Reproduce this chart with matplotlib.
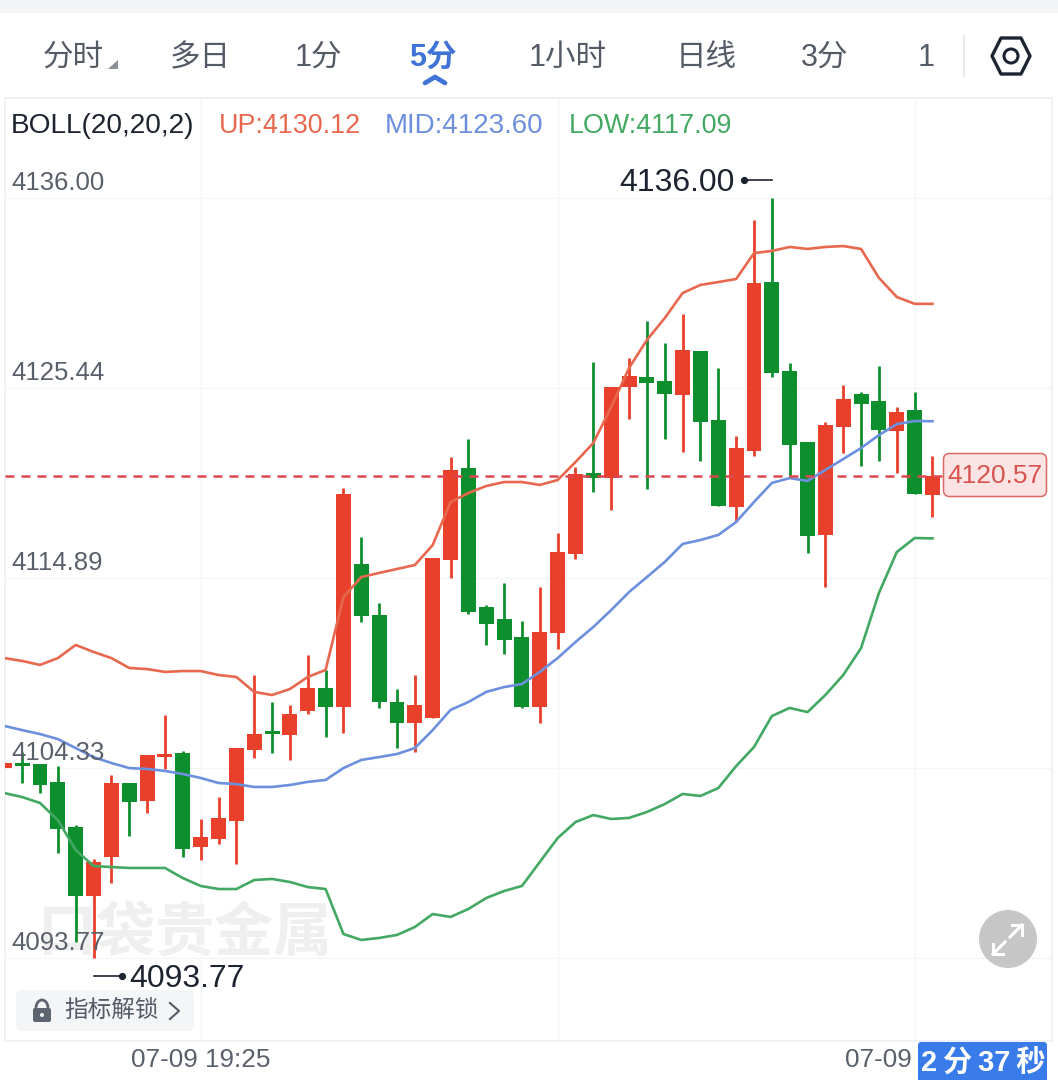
import numpy as np
import matplotlib
matplotlib.use("Agg")
import matplotlib.pyplot as plt
from matplotlib.patches import Rectangle, FancyBboxPatch, Polygon, Circle, Arc
from matplotlib.transforms import offset_copy

plt.rcParams['font.family'] = ['Liberation Sans', 'Noto Sans CJK SC', 'DejaVu Sans']

# 5-minute candles
opens = [4104.33, 4104.61, 4104.56, 4103.56, 4101.06, 4097.22, 4099.39, 4103.50, 4102.50, 4104.94,
         4105.17, 4099.94, 4100.39, 4101.39, 4105.33, 4106.39, 4106.17, 4107.50, 4108.78, 4107.72,
         4115.67, 4112.83, 4108.00, 4106.83, 4107.11, 4115.89, 4121.00, 4113.28, 4112.61, 4111.61,
         4107.72, 4111.83, 4116.22, 4120.72, 4120.44, 4125.50, 4126.06, 4125.83, 4125.06, 4127.50,
         4123.67, 4118.83, 4121.94, 4131.33, 4126.39, 4122.44, 4117.28, 4123.28, 4125.11, 4124.72,
         4123.06, 4124.22, 4119.50]
closes = [4104.61, 4104.44, 4103.39, 4100.94, 4097.22, 4099.11, 4103.50, 4102.44, 4105.06, 4105.11,
          4099.83, 4100.50, 4101.56, 4105.44, 4106.22, 4106.22, 4107.33, 4108.78, 4107.72, 4119.56,
          4112.78, 4108.00, 4106.83, 4107.83, 4116.00, 4120.89, 4113.00, 4112.33, 4111.44, 4107.72,
          4111.89, 4116.33, 4120.67, 4120.44, 4125.50, 4126.11, 4125.72, 4125.11, 4127.56, 4123.56,
          4118.89, 4122.11, 4131.28, 4126.28, 4122.28, 4117.22, 4123.39, 4124.83, 4124.56, 4123.11,
          4124.11, 4119.56, 4120.57]
highs = [4104.61, 4105.22, 4104.56, 4104.44, 4101.17, 4099.28, 4103.94, 4103.50, 4105.06, 4107.28,
         4105.28, 4101.50, 4102.72, 4105.44, 4109.50, 4108.00, 4107.83, 4110.61, 4109.78, 4119.89,
         4117.17, 4113.50, 4108.72, 4109.50, 4116.00, 4121.61, 4122.61, 4113.39, 4114.61, 4112.50,
         4114.39, 4117.39, 4121.06, 4126.89, 4125.50, 4127.11, 4129.17, 4127.94, 4129.56, 4127.50,
         4126.56, 4122.78, 4134.78, 4136.00, 4126.83, 4122.44, 4123.56, 4125.61, 4125.22, 4126.67,
         4124.39, 4125.22, 4121.67]
lows = [4104.33, 4103.50, 4102.94, 4099.61, 4094.67, 4093.77, 4097.94, 4100.56, 4101.83, 4104.28,
        4099.39, 4099.22, 4100.11, 4099.00, 4104.89, 4105.17, 4104.78, 4107.33, 4106.06, 4106.28,
        4112.44, 4107.67, 4105.44, 4105.22, 4107.11, 4114.89, 4112.89, 4111.17, 4110.67, 4107.67,
        4106.83, 4110.94, 4115.94, 4119.67, 4118.67, 4123.72, 4119.83, 4122.61, 4121.89, 4121.39,
        4118.89, 4118.00, 4121.67, 4126.06, 4120.50, 4116.28, 4114.39, 4121.83, 4121.11, 4121.39,
        4120.72, 4119.56, 4118.28]

# Bollinger bands
boll_up = [4110.44, 4110.28, 4110.06, 4110.44, 4111.17, 4110.78, 4110.44, 4109.89, 4109.83, 4109.67,
           4109.72, 4109.72, 4109.50, 4109.39, 4108.56, 4108.39, 4108.72, 4109.39, 4109.78, 4113.83,
           4114.94, 4115.17, 4115.39, 4115.61, 4116.72, 4119.11, 4119.61, 4120.00, 4120.22, 4120.22,
           4120.06, 4120.33, 4121.33, 4122.39, 4124.39, 4126.56, 4128.11, 4129.33, 4130.72, 4131.17,
           4131.33, 4131.50, 4132.94, 4133.06, 4133.28, 4133.17, 4133.28, 4133.33, 4133.17, 4131.56,
           4130.50, 4130.12, 4130.12]
boll_mid = [4106.67, 4106.44, 4106.22, 4105.94, 4105.44, 4104.94, 4104.61, 4104.33, 4104.28, 4104.17,
            4104.00, 4103.78, 4103.50, 4103.44, 4103.28, 4103.28, 4103.39, 4103.56, 4103.67, 4104.33,
            4104.78, 4104.94, 4105.11, 4105.44, 4106.44, 4107.56, 4108.00, 4108.56, 4108.83, 4109.00,
            4109.67, 4110.44, 4111.33, 4112.17, 4113.11, 4114.11, 4114.94, 4115.78, 4116.78, 4117.00,
            4117.28, 4118.00, 4119.11, 4120.17, 4120.44, 4120.28, 4120.89, 4121.50, 4122.11, 4122.83,
            4123.44, 4123.61, 4123.60]
boll_low = [4102.94, 4102.72, 4102.39, 4101.44, 4099.78, 4098.89, 4098.83, 4098.78, 4098.78, 4098.78,
            4098.22, 4097.78, 4097.61, 4097.61, 4098.11, 4098.17, 4098.00, 4097.72, 4097.61, 4095.11,
            4094.78, 4094.89, 4095.06, 4095.50, 4096.22, 4096.06, 4096.50, 4097.11, 4097.50, 4097.78,
            4099.11, 4100.44, 4101.33, 4101.72, 4101.50, 4101.56, 4101.89, 4102.33, 4102.89, 4102.78,
            4103.22, 4104.44, 4105.50, 4107.22, 4107.67, 4107.44, 4108.39, 4109.50, 4111.00, 4114.06,
            4116.33, 4117.11, 4117.09]

price_ticks = [4136.00, 4125.44, 4114.89, 4104.33, 4093.77]
price_labels = ['4136.00', '4125.44', '4114.89', '4104.33', '4093.77']
time_tick_index = [11, 31, 51]
time_labels = ['07-09 19:25', '', '07-09']
tabs = ['分时', '多日', '1分', '5分', '1小时', '日线', '3分', '1']
tab_left = [43, 170, 295, 409, 529, 676, 801, 918]
boll_title = ['BOLL(20,20,2)', 'UP:4130.12', 'MID:4123.60', 'LOW:4117.09']
boll_title_left = [11, 219, 385, 569]
boll_title_size = [20.2, 19.4, 20, 19.4]
last_price = closes[-1]

RED = '#e8402a'
GREEN = '#0e8f2e'
LINE_RED = '#e8684f'
LINE_BLUE = '#6c90de'
LINE_GREEN = '#43a862'
GRID = '#f4f5f6'
INK = '#1d2330'
LABEL = '#5a606b'
BLUE = '#3a7bea'

W, H = 1058, 1080
fig = plt.figure(figsize=(W / 100, H / 100), dpi=100, facecolor='white')


def px_axes(zorder):
    a = fig.add_axes([0, 0, 1, 1], zorder=zorder)
    a.set_xlim(0, W)
    a.set_ylim(H, 0)
    a.axis('off')
    return a


back = px_axes(0)
front = px_axes(5)

# Watermark sits behind the candles
back.text(185, 934, '口袋贵金属', fontsize=42.5, fontweight='bold', color='#efeff0',
          ha='center', va='center', family=['Noto Sans CJK SC'])

# Price pane
L, R, T, B = 5, 1052, 98, 1041
ax = fig.add_axes([L / W, 1 - B / H, (R - L) / W, (B - T) / H], zorder=1)
ax.patch.set_visible(False)
step = 17.85
x0 = 4.3
ax.set_xlim((L - x0) / step, (R - x0) / step)
ax.set_ylim(4147 - B / 18, 4147 - T / 18)
for s in ax.spines.values():
    s.set_color('#eff0f2')
    s.set_linewidth(1.2)
ax.set_axisbelow(True)
ax.set_xticks(time_tick_index)
ax.set_yticks(price_ticks)
ax.grid(True, color=GRID, linewidth=1.0)
ax.tick_params(length=0, labelleft=False, labelbottom=False)

idx = np.arange(len(opens))
o, c, hi, lo = map(np.array, (opens, closes, highs, lows))
up = c >= o
colors = np.where(up, RED, GREEN)

ax.vlines(idx, lo, hi, colors=colors, linewidth=2.0, zorder=2, capstyle='butt')
ax.bar(idx, np.abs(c - o), bottom=np.minimum(o, c), width=0.84, color=colors, linewidth=0, zorder=3)

ax.plot(idx, boll_up, color=LINE_RED, lw=1.9, zorder=4, solid_joinstyle='round')
ax.plot(idx, boll_mid, color=LINE_BLUE, lw=1.9, zorder=4, solid_joinstyle='round')
ax.plot(idx, boll_low, color=LINE_GREEN, lw=1.9, zorder=4, solid_joinstyle='round')

# Last traded price
ax.plot([ax.get_xlim()[0], (943 - x0) / step], [last_price, last_price], color='#df4650', lw=1.8,
        dashes=(3.6, 2.8), zorder=5)

# Price scale labels are drawn inside the pane, above their gridlines
for val, lab in zip(price_ticks, price_labels):
    ax.annotate(lab, xy=(0, val), xycoords=ax.get_yaxis_transform(), xytext=(6, 8),
                textcoords='offset pixels', fontsize=18.5, color=LABEL, ha='left',
                va='baseline', zorder=6)

# Extreme markers
i_hi = int(np.argmax(hi))
i_lo = int(np.argmin(lo))
up_tr = offset_copy(ax.transData, fig=fig, x=0, y=18, units='dots')
dn_tr = offset_copy(ax.transData, fig=fig, x=0, y=-18, units='dots')
span = 28 / step
ax.plot([i_hi - span, i_hi], [hi[i_hi]] * 2, color=INK, lw=1.2, transform=up_tr, zorder=6)
ax.plot([i_hi - span], [hi[i_hi]], 'o', ms=4.2, color=INK, transform=up_tr, zorder=6)
ax.plot([i_lo, i_lo + span], [lo[i_lo]] * 2, color=INK, lw=1.2, transform=dn_tr, zorder=6)
ax.plot([i_lo + span], [lo[i_lo]], 'o', ms=4.2, color=INK, transform=dn_tr, zorder=6)
ax.annotate(f'{hi[i_hi]:.2f}', xy=(i_hi, hi[i_hi]), xytext=(-37, 15), textcoords='offset pixels',
            fontsize=23, color=INK, ha='right', va='center', zorder=6)
ax.annotate(f'{lo[i_lo]:.2f}', xy=(i_lo, lo[i_lo]), xytext=(36, -21), textcoords='offset pixels',
            fontsize=23, color=INK, ha='left', va='center', zorder=6)

# Top strip and period tabs
front.add_patch(Rectangle((0, 0), W, 13, color='#f3f4f6', lw=0))
for name, left in zip(tabs, tab_left):
    active = name == '5分'
    front.text(left, 58, name, fontsize=22, ha='left', va='center',
               color='#3f73d6' if active else '#545b66', fontweight='bold' if active else 'normal')
front.add_patch(Polygon([(118, 60), (118, 69), (108, 69)], color='#8b9098', lw=0))
front.plot([425, 435, 445], [83, 77, 83], color='#3f73d6', lw=3.4, solid_capstyle='round',
           solid_joinstyle='round')
front.plot([964, 964], [36, 76], color='#e8e9eb', lw=1.4)
front.add_patch(Polygon([(992, 56), (1001, 38), (1021, 38), (1030, 56), (1021, 74), (1001, 74)],
                        closed=True, fill=False, ec=INK, lw=2.4, joinstyle='round'))
front.add_patch(Circle((1011, 56), 7, fill=False, ec=INK, lw=2.2))

# Indicator readout
for text, left, size, col in zip(boll_title, boll_title_left, boll_title_size,
                                 [INK, LINE_RED, LINE_BLUE, LINE_GREEN]):
    front.text(left, 126, text, fontsize=size, color=col, ha='left', va='center')

# Last price tag
front.add_patch(FancyBboxPatch((943.5, 453.5), 103, 43, boxstyle='round,pad=0,rounding_size=6',
                               fc='#fbe4e3', ec='#dc6a66', lw=1.1))
front.text(995, 476, f'{last_price:.2f}', fontsize=19, color='#d9534f', ha='center', va='center')

# Expand button
front.add_patch(Circle((1008, 939), 29, color='#c6c6c6', lw=0))
for pts in ([(1010, 937), (1022, 925)], [(1012, 925), (1022, 925), (1022, 935)],
            [(1005, 942), (993, 954)], [(993, 944), (993, 954), (1003, 954)]):
    xs, ys = zip(*pts)
    front.plot(xs, ys, color='white', lw=2.2, solid_joinstyle='miter')

# Indicator unlock pill
front.add_patch(FancyBboxPatch((16, 990), 178, 41, boxstyle='round,pad=0,rounding_size=6',
                               fc='#f4f5f7', ec='none'))
front.add_patch(FancyBboxPatch((33, 1008), 18, 14, boxstyle='round,pad=0,rounding_size=2',
                               fc='#5d6670', ec='none'))
front.add_patch(Arc((42, 1008), 12, 16, theta1=180, theta2=360, ec='#5d6670', lw=2))
front.add_patch(Circle((42, 1015), 2, color='#f4f5f7', lw=0))
front.text(64, 1011, '指标解锁', fontsize=17, color='#545b66', ha='left', va='center')
front.plot([170, 179, 170], [1003, 1011, 1019], color='#545b66', lw=1.5)

# Time axis
for i, lab in zip(time_tick_index, time_labels):
    if lab:
        xpos = x0 + step * i
        if lab == '07-09':
            front.text(912, 1060, lab, fontsize=18.8, color=LABEL, ha='right', va='center')
        else:
            front.text(xpos, 1060, lab, fontsize=18.8, color=LABEL, ha='center', va='center')

# Bar countdown
front.add_patch(FancyBboxPatch((918, 1042), 129, 44, boxstyle='round,pad=0,rounding_size=3',
                               fc=BLUE, ec='none', clip_on=True))
front.text(983, 1062, '2\u2009分\u200937\u2009秒', fontsize=21, fontweight='bold', color='white',
           ha='center', va='center')

fig.savefig('out.png', dpi=100, facecolor='white')
